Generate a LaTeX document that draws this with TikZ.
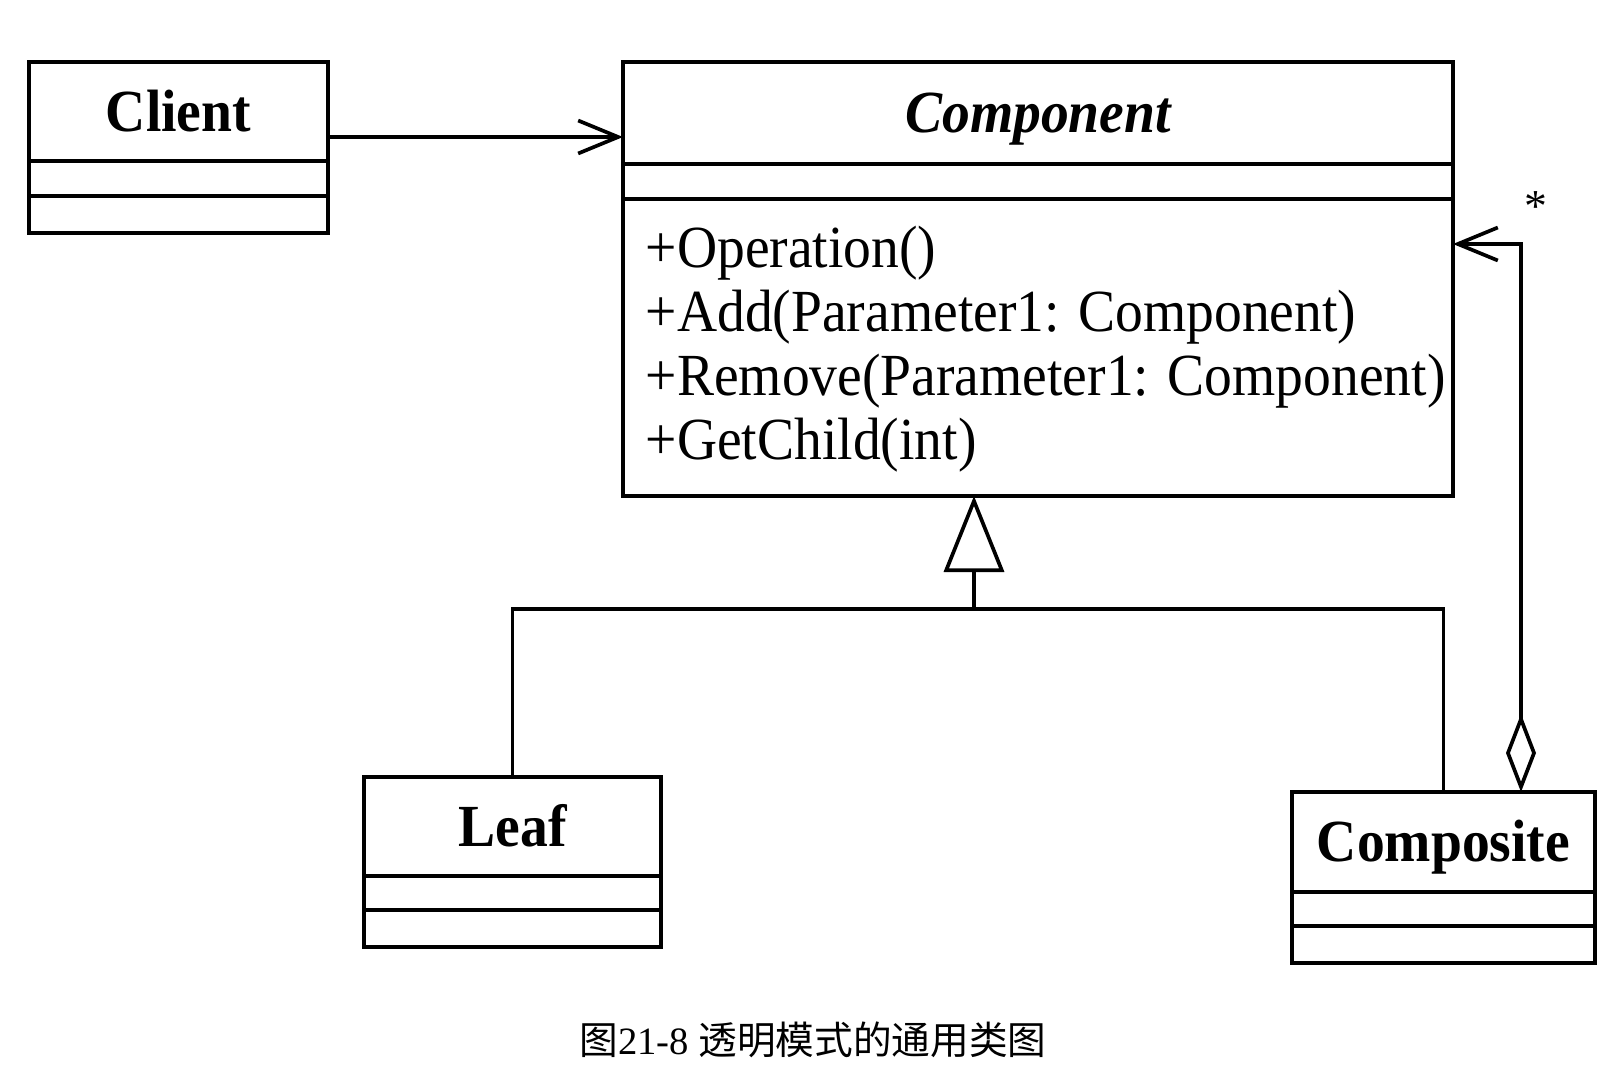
\documentclass[tikz,border=0pt]{standalone}
\usepackage{fontspec}
\usetikzlibrary{positioning, arrows.meta}
\setmainfont{Liberation Serif}
\newfontfamily\umlfont[FakeStretch=0.93]{Liberation Serif}
\newfontfamily\cjkfont{Noto Sans CJK SC}

\begin{document}
\begin{tikzpicture}[line width=1.05pt, node distance=0cm,
            compart/.style={draw, rectangle, line width=1.35pt, outer sep=0pt, inner sep=0pt},
            classname/.style={compart, minimum height=0.99cm, text height=11.3pt, text depth=0pt,
            font=\umlfont\fontsize{17pt}{19pt}\selectfont\bfseries},
            method/.style={anchor=base west, inner sep=0pt, font=\umlfont\fontsize{17pt}{19pt}\selectfont},
            assoc/.style={-{Straight Barb[length=4mm, width=3.3mm]}}]

            \path[use as bounding box, fill=white] (0,0) rectangle (16.18,-10.82);

            % clases
            \node[classname, minimum width=2.99cm] (client) at (1.785,-1.115) {Client};
            \node[compart, minimum width=2.99cm, minimum height=0.35cm, below=of client] (clientAttr) {};
            \node[compart, minimum width=2.99cm, minimum height=0.37cm, below=of clientAttr] (clientOps) {};

            \node[classname, minimum width=8.30cm, minimum height=1.02cm,
                font=\umlfont\fontsize{17pt}{19pt}\selectfont\bfseries\itshape] (comp) at (10.38,-1.13) {Component};
            \node[compart, minimum width=8.30cm, minimum height=0.35cm, below=of comp] (compAttr) {};
            \node[compart, minimum width=8.30cm, minimum height=2.97cm, below=of compAttr] (compOps) {};
            \node[method] (op1) at (6.44,-2.67) {+Operation()};
            \node[method] (op2) at (6.44,-3.31) {+Add(Parameter1: Component)};
            \node[method] (op3) at (6.44,-3.955) {+Remove(Parameter1: Component)};
            \node[method] (op4) at (6.44,-4.59) {+GetChild(int)};

            \node[classname, minimum width=2.97cm] (leaf) at (5.125,-8.265) {Leaf};
            \node[compart, minimum width=2.97cm, minimum height=0.34cm, below=of leaf] (leafAttr) {};
            \node[compart, minimum width=2.97cm, minimum height=0.37cm, below=of leafAttr] (leafOps) {};

            \node[classname, minimum width=3.03cm, minimum height=1.00cm] (composite) at (14.435,-8.42) {Composite};
            \node[compart, minimum width=3.03cm, minimum height=0.34cm, below=of composite] (compositeAttr) {};
            \node[compart, minimum width=3.03cm, minimum height=0.37cm, below=of compositeAttr] (compositeOps) {};

            % relaciones
            \coordinate (cl) at ([yshift=-2.55mm]client.east);
            \draw[assoc] (cl) -- (cl -| comp.west);

            \coordinate (gen) at (9.74,-6.09);
            \draw[-{Triangle[open, length=7.6mm, width=6mm]}] (gen) -- (gen |- compOps.south);
            \draw (leaf.north) |- (gen) -| (composite.north);

            \coordinate (agg) at (15.21,-7.92);
            \coordinate (aggEnd) at ([yshift=-4.5mm]compOps.north east);
            \draw[{Diamond[open, length=7.8mm, width=3mm]}-{Straight Barb[length=4mm, width=3.3mm]}] (agg) |- (aggEnd);
            \node[font=\fontsize{13pt}{15pt}\selectfont] (mult) at (15.36,-2.07) {*};

            \node[font=\fontsize{11pt}{13pt}\selectfont] (caption) at (8.13,-10.40) {{\cjkfont 图}21-8 {\cjkfont 透明模式的通用类图}};
        \end{tikzpicture}
\end{document}
